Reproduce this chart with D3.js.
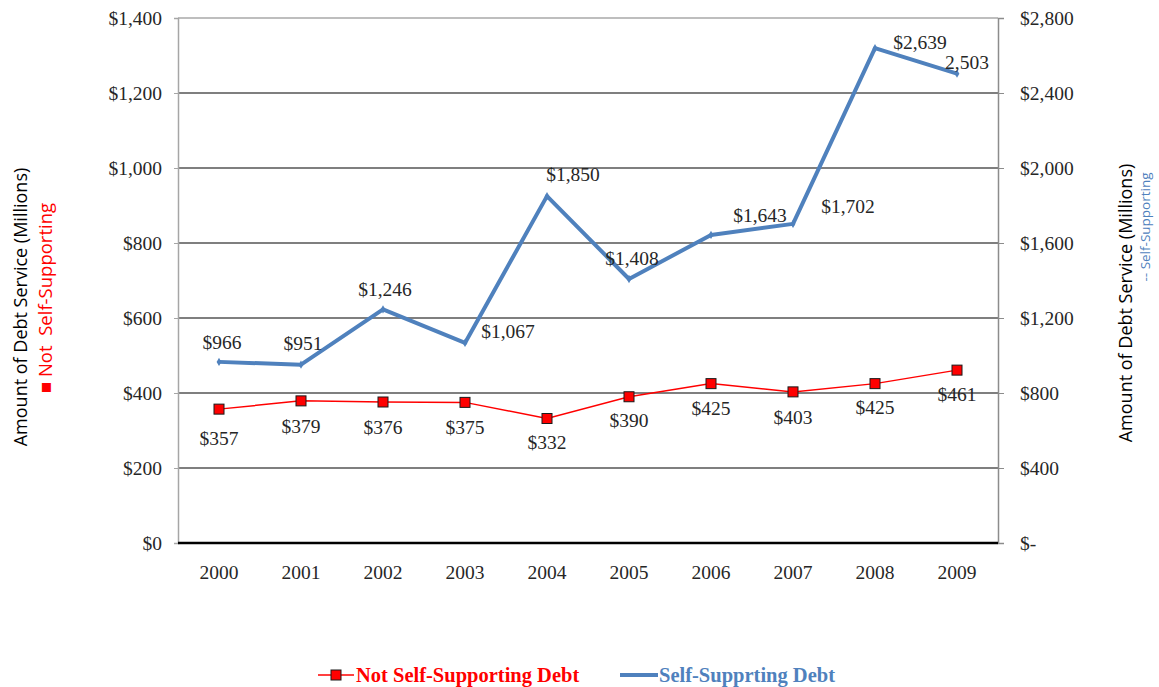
<!DOCTYPE html>
<html>
<head>
<meta charset="utf-8">
<script src="https://cdn.jsdelivr.net/npm/d3@7/dist/d3.min.js"></script>
<style>
  html, body { margin: 0; padding: 0; background: #fff; }
  svg { display: block; }
</style>
</head>
<body>
<svg id="chart" width="1159" height="687"></svg>
<script>
// ---- data ----
const years = ["2000","2001","2002","2003","2004","2005","2006","2007","2008","2009"];
const notSelfSupporting = [357, 379, 376, 375, 332, 390, 425, 403, 425, 461];
const selfSupporting = [966, 951, 1246, 1067, 1850, 1408, 1643, 1702, 2639, 2503];
const leftTicks = [0, 200, 400, 600, 800, 1000, 1200, 1400];
const rightTicks = [0, 400, 800, 1200, 1600, 2000, 2400, 2800];
const selfLabels = ["$966","$951","$1,246","$1,067","$1,850","$1,408","$1,643","$1,702","$2,639","2,503"];

// label placement (layout only)
const notLabelDy = [29, 25, 25, 25, 24, 23, 25, 25, 24, 24];
const selfLabelOffset = [[3,-20],[2,-22],[2,-20],[43,-12],[26,-22],[3,-21],[49,-20],[55,-18],[45,-6],[10,-12]];

const svg = d3.select("#chart");
const m = { left: 178, right: 998, top: 18, bottom: 543 };

const x = d3.scaleBand().domain(years).range([m.left, m.right]);
const yL = d3.scaleLinear().domain([0, 1400]).range([m.bottom, m.top]);
const yR = d3.scaleLinear().domain([0, 2800]).range([m.bottom, m.top]);
const cx = d => x(d) + x.bandwidth() / 2;

const FS = 19.5;
const textCol = "#262626";
const fmt = d3.format(",");

function serifText(sel, size) {
  sel.attr("font-family", null).attr("font-size", null)
    .style("font-family", '"Liberation Serif", "Times New Roman", serif')
    .style("font-size", size + "px")
    .attr("fill", textCol);
}

// gridlines
svg.append("g").selectAll("line")
  .data(leftTicks.filter(t => t > 0 && t < 1400))
  .join("line")
  .attr("x1", m.left).attr("x2", m.right)
  .attr("y1", d => yL(d)).attr("y2", d => yL(d))
  .attr("stroke", "#000").attr("stroke-width", 1.2);
// top border
svg.append("line").attr("x1", m.left).attr("x2", m.right)
  .attr("y1", yL(1400)).attr("y2", yL(1400))
  .attr("stroke", "#7f7f7f").attr("stroke-width", 1.2);

// left axis
const leftAxis = d3.axisLeft(yL).tickValues(leftTicks).tickSize(4).tickPadding(12)
  .tickFormat(d => "$" + fmt(d));
const gL = svg.append("g").attr("transform", `translate(${m.left},0)`).call(leftAxis);
gL.attr("font-family", null).attr("font-size", null);
gL.select(".domain").attr("stroke", "#a6a6a6").attr("stroke-width", 1.5);
gL.selectAll(".tick line").attr("stroke", "#a6a6a6");
gL.selectAll("text").call(serifText, FS);

// right axis
const rightAxis = d3.axisRight(yR).tickValues(rightTicks).tickSize(6).tickPadding(16)
  .tickFormat(d => d === 0 ? "$-" : "$" + fmt(d));
const gR = svg.append("g").attr("transform", `translate(${m.right},0)`).call(rightAxis);
gR.attr("font-family", null).attr("font-size", null);
gR.select(".domain").attr("stroke", "#8c8c8c").attr("stroke-width", 1.5);
gR.selectAll(".tick line").attr("stroke", "#8c8c8c");
gR.selectAll("text").call(serifText, FS);

// bottom axis
const bottomAxis = d3.axisBottom(x).tickSize(0).tickPadding(22);
const gB = svg.append("g").attr("transform", `translate(0,${m.bottom})`).call(bottomAxis);
gB.attr("font-family", null).attr("font-size", null);
gB.select(".domain").remove();
gB.selectAll("text").call(serifText, FS);
svg.append("line").attr("x1", m.left).attr("x2", m.right)
  .attr("y1", m.bottom).attr("y2", m.bottom)
  .attr("stroke", "#000").attr("stroke-width", 2.5);

// self-supporting line (right axis)
const lineR = d3.line().x((d, i) => cx(years[i])).y(d => yR(d));
svg.append("path").datum(selfSupporting)
  .attr("d", lineR).attr("fill", "none")
  .attr("stroke", "#4f81bd").attr("stroke-width", 4).attr("stroke-linejoin", "round");
svg.append("g").selectAll("path")
  .data(selfSupporting).join("path")
  .attr("d", d3.symbol().type(d3.symbolDiamond).size(20))
  .attr("transform", (d, i) => `translate(${cx(years[i])},${yR(d)})`)
  .attr("fill", "#4f81bd");

// not self-supporting line (left axis)
const lineL = d3.line().x((d, i) => cx(years[i])).y(d => yL(d));
svg.append("path").datum(notSelfSupporting)
  .attr("d", lineL).attr("fill", "none")
  .attr("stroke", "#ff0000").attr("stroke-width", 1.5);
svg.append("g").selectAll("rect")
  .data(notSelfSupporting).join("rect")
  .attr("x", (d, i) => cx(years[i]) - 5)
  .attr("y", d => yL(d) - 5)
  .attr("width", 10).attr("height", 10)
  .attr("fill", "#ff0000").attr("stroke", "#1a1a1a").attr("stroke-width", 1);

// labels - not self-supporting
svg.append("g").selectAll("text")
  .data(notSelfSupporting).join("text")
  .attr("x", (d, i) => cx(years[i]))
  .attr("y", (d, i) => yL(d) + notLabelDy[i])
  .attr("dy", "0.35em")
  .attr("text-anchor", "middle")
  .call(serifText, FS)
  .text(d => "$" + fmt(d));

// labels - self-supporting
svg.append("g").selectAll("text")
  .data(selfSupporting).join("text")
  .attr("x", (d, i) => cx(years[i]) + selfLabelOffset[i][0])
  .attr("y", (d, i) => yR(d) + selfLabelOffset[i][1])
  .attr("dy", "0.35em")
  .attr("text-anchor", "middle")
  .call(serifText, FS)
  .text((d, i) => selfLabels[i]);

// axis titles
const sansFam = '"Open Sans", "Noto Sans", "Liberation Sans", sans-serif';
svg.append("text")
  .attr("transform", "translate(27,307) rotate(-90)")
  .attr("text-anchor", "middle")
  .style("font-family", sansFam).style("font-size", "18px").attr("fill", "#000")
  .text("Amount of Debt Service (Millions)");
svg.append("text")
  .attr("transform", "translate(52,298) rotate(-90)")
  .attr("text-anchor", "middle")
  .style("font-family", sansFam).style("font-size", "18.5px").attr("fill", "#ff0000")
  .style("white-space", "pre")
  .text("\u25A0 Not  Self-Supporting");

svg.append("text")
  .attr("transform", "translate(1132,303) rotate(-90)")
  .attr("text-anchor", "middle")
  .style("font-family", sansFam).style("font-size", "18px").attr("fill", "#000")
  .text("Amount of Debt Service (Millions)");
svg.append("text")
  .attr("transform", "translate(1150,227) rotate(-90)")
  .attr("text-anchor", "middle")
  .style("font-family", sansFam).style("font-size", "13.5px").attr("fill", "#4f81bd")
  .text("-- Self-Supporting");

// legend
const leg = svg.append("g");
leg.append("line").attr("x1", 318).attr("x2", 354).attr("y1", 675).attr("y2", 675)
  .attr("stroke", "#ff0000").attr("stroke-width", 1.5);
leg.append("rect").attr("x", 331).attr("y", 670).attr("width", 10).attr("height", 10)
  .attr("fill", "#ff0000").attr("stroke", "#1a1a1a").attr("stroke-width", 1);
leg.append("text").attr("x", 356).attr("y", 675).attr("dy", "0.35em")
  .call(serifText, 20.5).style("font-weight", "bold")
  .attr("fill", "#ff0000").text("Not Self-Supporting Debt");
leg.append("line").attr("x1", 620).attr("x2", 658).attr("y1", 675).attr("y2", 675)
  .attr("stroke", "#4f81bd").attr("stroke-width", 4);
leg.append("text").attr("x", 659).attr("y", 675).attr("dy", "0.35em")
  .call(serifText, 20.5).style("font-weight", "bold")
  .attr("fill", "#4f81bd").text("Self-Supprting Debt");
</script>
</body>
</html>
